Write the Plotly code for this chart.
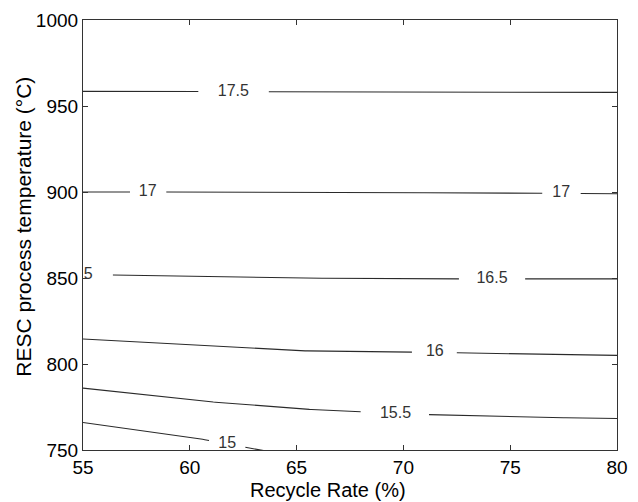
import numpy as np
import plotly.graph_objects as go

# Contour levels and line positions (RESC temperature, °C) read at recycle rates
levels = [15.0, 15.5, 16.0, 16.5, 17.0, 17.5]
x_pts = [55, 60, 65, 70, 75, 80]
y_15 = [766, 757.6, 746.0, 742, 740, 738]
y_155 = [786, 779, 774, 771, 769.2, 768.3]
y_16 = [814.5, 811, 807.7, 807, 806, 805]
y_165 = [852, 851, 850, 849.5, 849.5, 849.5]
y_17 = [900, 900, 899.8, 899.6, 899.4, 899]
y_175 = [958.5, 958.4, 958.3, 958.2, 958, 957.9]
level_y = [y_15, y_155, y_16, y_165, y_17, y_175]

# Inline label positions (recycle rate) for each level
label_text = ["15", "15.5", "16", "16.5", "16.5", "17", "17", "17.5"]
label_level = [0, 1, 2, 3, 3, 4, 4, 5]
label_x = [61.75, 69.63, 71.47, 54.72, 74.15, 58.03, 77.39, 62.04]
label_halfgap = [0.8, 1.55, 1.0, 1.65, 1.55, 0.77, 0.82, 1.6]

x_ticks = [55, 60, 65, 70, 75, 80]
y_ticks = [750, 800, 850, 900, 950, 1000]

FONT = "Liberation Sans, Arial, Helvetica"

fig = go.Figure()
fine_x = np.linspace(55, 80, 251)
for i, lv in enumerate(levels):
    yy = np.interp(fine_x, x_pts, level_y[i])
    mask = np.ones_like(fine_x, dtype=bool)
    for j, li in enumerate(label_level):
        if li == i:
            mask &= ~((fine_x > label_x[j] - label_halfgap[j]) & (fine_x < label_x[j] + label_halfgap[j]))
    ys = np.where(mask, yy, np.nan)
    fig.add_trace(go.Scatter(x=fine_x, y=ys, mode="lines",
                             line=dict(color="#2a2a2a", width=1.1),
                             connectgaps=False, showlegend=False, hoverinfo="skip"))

lab_y = [float(np.interp(label_x[j], x_pts, level_y[label_level[j]])) for j in range(len(label_x))]
fig.add_trace(go.Scatter(x=label_x, y=lab_y, mode="text", text=label_text,
                         textfont=dict(family=FONT, size=16, color="#333333"),
                         textposition="middle center", cliponaxis=True,
                         showlegend=False, hoverinfo="skip"))

axis_common = dict(showline=True, linecolor="#333333", linewidth=1.2, mirror="ticks",
                   ticks="inside", ticklen=5, tickcolor="#333333", showgrid=False,
                   zeroline=False, tickfont=dict(family=FONT, size=19, color="black"))
fig.update_xaxes(range=[55, 80], tickvals=x_ticks, **axis_common)
fig.update_yaxes(range=[750, 1000], tickvals=y_ticks, **axis_common)

# Axis titles placed as annotations to match the reference offsets
fig.add_annotation(text="Recycle Rate (%)", xref="paper", yref="paper",
                   x=(333 - 83) / 545, y=-(490 - 450) / 433, showarrow=False,
                   xanchor="center", yanchor="middle",
                   font=dict(family=FONT, size=20, color="black"))
fig.add_annotation(text="RESC process temperature (°C)", xref="paper", yref="paper",
                   x=-(83 - 22) / 545, y=(450 - 225) / 433, showarrow=False, textangle=-90,
                   xanchor="center", yanchor="middle",
                   font=dict(family=FONT, size=21, color="black"))

fig.update_layout(width=638, height=502, margin=dict(l=83, r=10, t=17, b=52),
                  plot_bgcolor="white", paper_bgcolor="white")
fig.write_html("out.html")
